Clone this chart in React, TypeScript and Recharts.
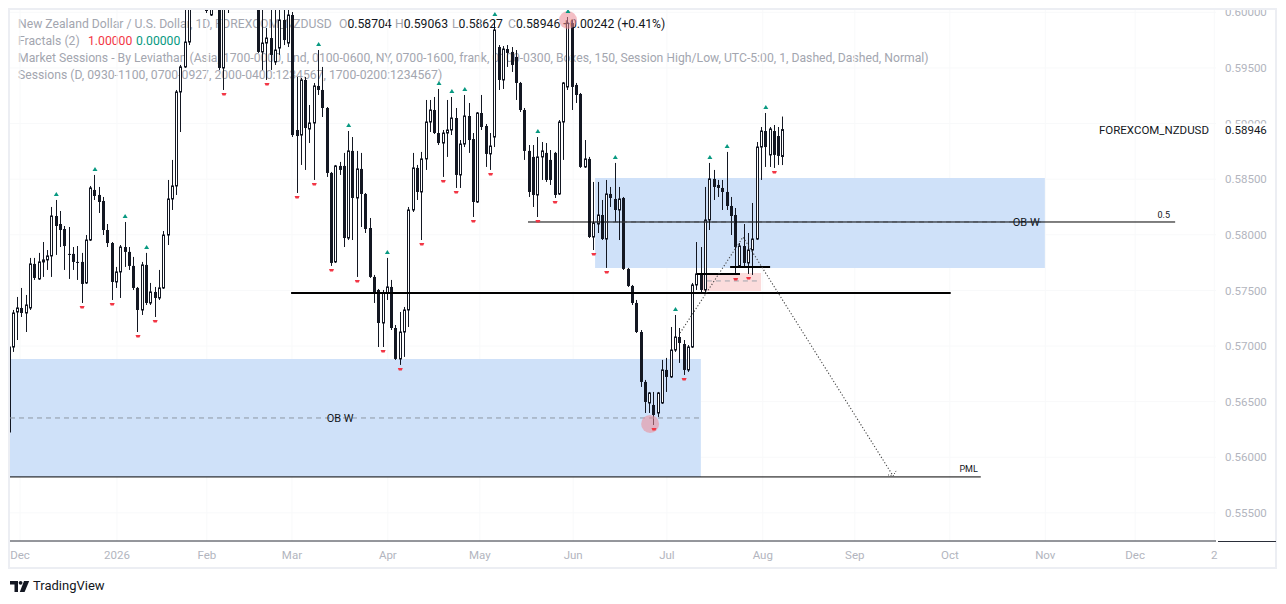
import React from 'react'
import {
  ComposedChart,
  Bar,
  Line,
  Scatter,
  XAxis,
  YAxis,
  CartesianGrid,
  ReferenceArea,
  ReferenceLine,
} from 'recharts'

// NZDUSD daily candles, bar -1 is the half hidden one on the left edge
const FIRST_BAR = -1

const opens = [
  0.56227,
  0.56991, 0.57306, 0.57342, 0.57297, 0.57342, 0.57738, 0.57603, 0.57756, 0.57774, 0.5781,
  0.58169, 0.58097, 0.58052, 0.57828, 0.57828, 0.57756, 0.57756, 0.57567, 0.57953, 0.58403,
  0.58358, 0.58304, 0.58043, 0.57926, 0.57576, 0.57666, 0.5789, 0.57846, 0.5772, 0.57522,
  0.57324, 0.57729, 0.57387, 0.57486, 0.57432, 0.57522, 0.57998, 0.58322, 0.58439, 0.59284,
  0.59509, 0.59733, 0.60183, 0.60381, 0.60516, 0.60291, 0.59976, 0.60201, 0.60336, 0.595,
  0.60129, 0.60246, 0.60471, 0.60561, 0.60426, 0.60291, 0.60156, 0.60336, 0.59644, 0.59724,
  0.59769, 0.59554, 0.59679, 0.59931, 0.59724, 0.59976, 0.58942, 0.58897, 0.59392, 0.58951,
  0.59005, 0.59338, 0.59302, 0.5914, 0.58556, 0.57756, 0.58619, 0.58619, 0.57971, 0.58754,
  0.58331, 0.58592, 0.58367, 0.58061, 0.57621, 0.57504, 0.57207, 0.57477, 0.57531, 0.57162,
  0.56884, 0.57126, 0.57324, 0.58223, 0.58601, 0.58385, 0.58682, 0.59014, 0.59122, 0.58915,
  0.58825, 0.58915, 0.58942, 0.5905, 0.58538, 0.58816, 0.59068, 0.58861, 0.58295, 0.59095,
  0.58978, 0.58727, 0.58879, 0.59688, 0.59392, 0.5967, 0.59644, 0.59599, 0.59365, 0.59122,
  0.58754, 0.587, 0.58358, 0.587, 0.58736, 0.58673, 0.58736, 0.58367, 0.59014, 0.59329,
  0.59904, 0.59347, 0.59266, 0.5861, 0.58682, 0.5798, 0.58097, 0.58178, 0.57962, 0.58367,
  0.58322, 0.58223, 0.58331, 0.57693, 0.5754, 0.57387, 0.57126, 0.56677, 0.56488, 0.5647,
  0.56398, 0.56488, 0.56785, 0.56722, 0.56964, 0.57081, 0.57018, 0.56785, 0.56991, 0.57549,
  0.57648, 0.57504, 0.58133, 0.58502, 0.58448, 0.58421, 0.58385, 0.58259, 0.58178, 0.5772,
  0.57899, 0.57747, 0.57863, 0.57962, 0.58789, 0.58933, 0.58718, 0.58933, 0.58888, 0.58704,
]

const highs = [
  0.57054,
  0.57324, 0.57441, 0.57522, 0.57459, 0.57792, 0.57792, 0.57837, 0.57935, 0.57863, 0.5825,
  0.58313, 0.58214, 0.58079, 0.5807, 0.5789, 0.57899, 0.57837, 0.57998, 0.58439, 0.58538,
  0.5843, 0.5834, 0.58097, 0.57935, 0.57711, 0.57908, 0.58115, 0.5789, 0.57801, 0.57531,
  0.57756, 0.57837, 0.57567, 0.57531, 0.57684, 0.58034, 0.58493, 0.58673, 0.59302, 0.59527,
  0.60039, 0.60291, 0.60471, 0.60606, 0.6065, 0.60381, 0.60246, 0.60426, 0.60471, 0.60156,
  0.60291, 0.60516, 0.6065, 0.60668, 0.60561, 0.60471, 0.60381, 0.60426, 0.60156, 0.59859,
  0.60066, 0.60066, 0.60066, 0.60066, 0.60066, 0.60003, 0.59419, 0.5941, 0.59419, 0.59167,
  0.59365, 0.59661, 0.59509, 0.59149, 0.58565, 0.58628, 0.58655, 0.58736, 0.58933, 0.58879,
  0.58754, 0.58736, 0.58376, 0.58151, 0.57639, 0.57513, 0.57504, 0.57792, 0.57594, 0.57189,
  0.57306, 0.57351, 0.5825, 0.58736, 0.58628, 0.58745, 0.59212, 0.59212, 0.59239, 0.59311,
  0.58942, 0.59212, 0.59239, 0.5914, 0.58852, 0.59257, 0.59185, 0.58915, 0.59104, 0.59257,
  0.58996, 0.58915, 0.59931, 0.59706, 0.59697, 0.59706, 0.59688, 0.59661, 0.59374, 0.5914,
  0.58807, 0.58807, 0.58879, 0.58834, 0.58825, 0.58762, 0.58745, 0.59032, 0.59374, 0.59958,
  0.59931, 0.59365, 0.59275, 0.58852, 0.587, 0.58475, 0.58475, 0.58313, 0.58493, 0.5843,
  0.58646, 0.5843, 0.5834, 0.57702, 0.57549, 0.57414, 0.57144, 0.56695, 0.56587, 0.56587,
  0.56587, 0.56875, 0.56893, 0.57171, 0.57279, 0.57162, 0.57054, 0.57009, 0.57567, 0.57935,
  0.5789, 0.5843, 0.58646, 0.58583, 0.58493, 0.58493, 0.58745, 0.5834, 0.58241, 0.57926,
  0.58097, 0.58016, 0.58286, 0.58834, 0.58969, 0.59095, 0.58969, 0.58987, 0.58969, 0.59063,
]

const lows = [
  0.562,
  0.56947, 0.57054, 0.57261, 0.57126, 0.57324, 0.57594, 0.57594, 0.57621, 0.57684, 0.57621,
  0.57819, 0.5789, 0.57684, 0.57603, 0.57684, 0.57594, 0.57387, 0.57558, 0.57944, 0.58313,
  0.58196, 0.57998, 0.5789, 0.57414, 0.57522, 0.57432, 0.57711, 0.57684, 0.57504, 0.57126,
  0.57279, 0.57369, 0.57369, 0.57261, 0.57414, 0.57513, 0.57908, 0.58223, 0.58358, 0.58924,
  0.595, 0.59706, 0.60219, 0.60291, 0.60246, 0.59994, 0.59967, 0.60156, 0.59482, 0.59302,
  0.59994, 0.60183, 0.60381, 0.60363, 0.60201, 0.60111, 0.60066, 0.59635, 0.59482, 0.59392,
  0.59482, 0.59527, 0.59617, 0.59706, 0.59688, 0.58879, 0.58376, 0.58628, 0.58583, 0.58825,
  0.58493, 0.59257, 0.59059, 0.5852, 0.5772, 0.57747, 0.58538, 0.5789, 0.57953, 0.57953,
  0.57621, 0.5807, 0.58016, 0.57612, 0.57387, 0.56991, 0.56991, 0.57414, 0.57144, 0.56875,
  0.5683, 0.56902, 0.57171, 0.58205, 0.58313, 0.57953, 0.58583, 0.58924, 0.58906, 0.58807,
  0.5852, 0.587, 0.58897, 0.58421, 0.58421, 0.58789, 0.58736, 0.5816, 0.58286, 0.58942,
  0.5861, 0.58583, 0.58789, 0.59302, 0.59311, 0.59509, 0.59464, 0.59212, 0.59104, 0.58673,
  0.5834, 0.5825, 0.5816, 0.58493, 0.58475, 0.58448, 0.58331, 0.58358, 0.58673, 0.59302,
  0.59122, 0.59185, 0.58601, 0.58601, 0.57971, 0.57863, 0.58016, 0.57953, 0.57702, 0.5825,
  0.58115, 0.57953, 0.57684, 0.57531, 0.57369, 0.57117, 0.56632, 0.56398, 0.56398, 0.5629,
  0.56362, 0.56479, 0.56587, 0.56713, 0.56947, 0.56848, 0.5674, 0.56767, 0.56982, 0.57504,
  0.57477, 0.57477, 0.58043, 0.58313, 0.5834, 0.58223, 0.58223, 0.57998, 0.57639, 0.57711,
  0.57711, 0.57648, 0.57639, 0.57953, 0.58493, 0.5861, 0.5861, 0.58601, 0.58628, 0.58627,
]

const closes = [
  0.56991,
  0.57297, 0.57342, 0.57297, 0.57369, 0.57738, 0.57612, 0.57756, 0.57774, 0.5781, 0.58169,
  0.58079, 0.58043, 0.57899, 0.57819, 0.57756, 0.57747, 0.57558, 0.57953, 0.58421, 0.58349,
  0.58295, 0.58043, 0.57926, 0.57576, 0.57666, 0.5789, 0.57846, 0.5772, 0.57522, 0.57324,
  0.57729, 0.57387, 0.57486, 0.57432, 0.57522, 0.57998, 0.58322, 0.58439, 0.59284, 0.59509,
  0.59733, 0.60183, 0.60381, 0.60516, 0.60291, 0.60012, 0.60201, 0.60336, 0.595, 0.60129,
  0.60246, 0.60471, 0.60561, 0.60426, 0.60291, 0.60156, 0.60336, 0.59644, 0.59724, 0.59769,
  0.59617, 0.59661, 0.59931, 0.59751, 0.59976, 0.58897, 0.58888, 0.59392, 0.5896, 0.59005,
  0.59338, 0.59302, 0.5914, 0.58556, 0.57747, 0.58619, 0.58583, 0.57971, 0.58754, 0.58331,
  0.58592, 0.58367, 0.58052, 0.57621, 0.57477, 0.57207, 0.57477, 0.57531, 0.57162, 0.56884,
  0.57126, 0.57324, 0.58223, 0.58601, 0.58385, 0.58682, 0.59014, 0.59122, 0.58915, 0.58825,
  0.58915, 0.58942, 0.5905, 0.58538, 0.58816, 0.59068, 0.58852, 0.58295, 0.59095, 0.58969,
  0.58727, 0.58798, 0.59841, 0.59392, 0.5967, 0.59635, 0.59527, 0.59365, 0.59122, 0.58754,
  0.58385, 0.58358, 0.587, 0.58754, 0.58493, 0.58493, 0.58358, 0.59014, 0.59365, 0.59904,
  0.59329, 0.59257, 0.5861, 0.58682, 0.5798, 0.58106, 0.58178, 0.57962, 0.58367, 0.58331,
  0.58223, 0.58322, 0.57693, 0.5754, 0.57387, 0.57126, 0.56677, 0.56497, 0.56578, 0.5638,
  0.56578, 0.56785, 0.56722, 0.56964, 0.57081, 0.57027, 0.56785, 0.56991, 0.57549, 0.57648,
  0.57504, 0.58133, 0.58502, 0.5843, 0.58421, 0.58385, 0.58259, 0.58169, 0.5789, 0.57899,
  0.57747, 0.57863, 0.57962, 0.58789, 0.58933, 0.58789, 0.58951, 0.58718, 0.58709, 0.58946,
]

// bars where the Fractals (2) script printed a mark
const fractalUpBars = [10, 19, 26, 31, 71, 78, 87, 99, 102, 105, 112, 122, 129, 140, 154, 162, 166, 175]
const fractalDownBars = [
  16, 23, 29, 33, 49, 59, 66, 70, 74, 80, 86, 90, 95, 100, 103, 107, 111, 122, 126, 135, 138, 149,
  156, 168, 171, 177,
]

// month labels sit on the first trading day of each month (bar index)
const monthTicks = [1.56, 24.1, 45, 64.8, 87.1, 108.5, 130.2, 152, 174.3, 195.7, 217.8, 240, 260.9, 279.3]
const monthLabels = ['Dec', '2026', 'Feb', 'Mar', 'Apr', 'May', 'Jun', 'Jul', 'Aug', 'Sep', 'Oct', 'Nov', 'Dec', '2']

const priceTicks = [0.555, 0.56, 0.565, 0.57, 0.575, 0.58, 0.585, 0.59, 0.595, 0.6]
const LAST_PRICE = 0.58946

// drawings
const obUpperBars = [135.3, 239.9]
const obUpperPrices = [0.57702, 0.58511, 0.58115]
const obLowerBars = [-0.77, 159.9]
const obLowerPrices = [0.55823, 0.56884, 0.56353]
const halfLineBars = [119.7, 270.2]
const keyLevelBars = [64.6, 218]
const KEY_LEVEL = 0.57477
const pmlBars = [-0.77, 225]
const PML = 0.55823
const pinkBars = [160.4, 173.9]
const pinkPrices = [0.57495, 0.57657, 0.57585]
const shortLevelBars = [159, 169]
const SHORT_LEVEL = 0.57648
const boxLevelBars = [166.7, 176]
const BOX_LEVEL = 0.57711
const pathBars = [155.05, 169.7, 204.6]
const pathPrices = [0.57117, 0.5798, 0.55832]
const circleBars = [148.1, 129]
const circlePrices = [0.56299, 0.59931]

const X_DOMAIN = [-0.77, 279.7]
const Y_DOMAIN = [0.55247, 0.60021]

const candles = opens.map((o, k) => ({
  bar: k + FIRST_BAR,
  open: o,
  high: highs[k],
  low: lows[k],
  close: closes[k],
  range: [lows[k], highs[k]],
}))

const upMarks = fractalUpBars.map((b) => ({ bar: b, v: highs[b - FIRST_BAR] }))
const downMarks = fractalDownBars.map((b) => ({ bar: b, v: lows[b - FIRST_BAR] }))
const pathData = pathBars.map((b, i) => ({ bar: b, v: pathPrices[i] }))
const circleData = circleBars.map((b, i) => ({ bar: b, v: circlePrices[i] }))
const labelData = [
  { bar: obUpperBars[1] - 1.2, v: obUpperPrices[2], text: 'OB W', anchor: 'end', size: 11, dy: 4 },
  { bar: 76, v: obLowerPrices[2], text: 'OB W', anchor: 'middle', size: 11, dy: 4 },
  { bar: halfLineBars[1] - 1.2, v: obUpperPrices[2], text: '0.5', anchor: 'end', size: 9, dy: -4 },
  { bar: pmlBars[1] - 0.7, v: PML, text: 'PML', anchor: 'end', size: 9, dy: -5 },
]

const INK = '#131722'
const AXIS_GREY = '#b2b5be'
const LEGEND_GREY = '#a3a6af'

function Candle(props: any) {
  const { x, y, width, height, payload } = props
  if (x == null || y == null) return null
  const top = Math.min(y, y + height)
  const h = Math.abs(height)
  const { open, close, high, low } = payload
  const ppu = h / (high - low)
  const yOf = (v: number) => top + (high - v) * ppu
  const cx = Math.floor(x + width / 2) + 0.5
  const up = close >= open
  const bTop = yOf(Math.max(open, close))
  const bBot = yOf(Math.min(open, close))
  const bh = Math.max(bBot - bTop, 1)
  return (
    <g>
      <line x1={cx} x2={cx} y1={top} y2={top + h} stroke={INK} strokeWidth={1} />
      {up ? (
        <rect x={cx - 1} y={bTop} width={2} height={bh} fill="#fff" stroke={INK} strokeWidth={1} />
      ) : (
        <rect x={cx - 1.5} y={bTop} width={3} height={bh} fill={INK} />
      )}
    </g>
  )
}

function UpMark(props: any) {
  const { cx, cy } = props
  const t = cy - 4
  return <path d={`M${cx - 2.5} ${t} L${cx + 2.5} ${t} L${cx} ${t - 4} Z`} fill="#089981" />
}

function DownMark(props: any) {
  const { cx, cy } = props
  const t = cy + 3
  return <path d={`M${cx - 2.5} ${t} L${cx + 2.5} ${t} L${cx + 1.5} ${t + 2.5} L${cx - 1.5} ${t + 2.5} Z`} fill="#f23645" />
}

function HighlightCircle(props: any) {
  const { cx, cy } = props
  return <circle cx={cx} cy={cy} r={9} fill="#eb8a96" fillOpacity={0.55} />
}

function TextMark(props: any) {
  const { cx, cy, payload } = props
  return (
    <text x={cx} y={cy} dy={payload.dy} textAnchor={payload.anchor} fontSize={payload.size} fill={INK}>
      {payload.text}
    </text>
  )
}

function PathArrow(props: any) {
  const { cx, cy, index } = props
  if (index !== pathBars.length - 1) return <g key={index} />
  return (
    <path
      key={index}
      d={`M${cx - 5} ${cy - 1} L${cx} ${cy} L${cx + 3} ${cy - 5}`}
      fill="none"
      stroke="#444"
      strokeWidth={1}
      strokeDasharray="1 1.5"
    />
  )
}

function MonthTick(props: any) {
  const { x, y, payload } = props
  const idx = monthTicks.indexOf(payload.value)
  return (
    <text x={x} y={y + 18} textAnchor="middle" fill={AXIS_GREY} fontSize={11.5}>
      {monthLabels[idx]}
    </text>
  )
}

function PriceTick(props: any) {
  const { x, y, payload } = props
  const v = payload.value as number
  if (Math.abs(v - LAST_PRICE) < 1e-9) {
    return (
      <g>
        <rect x={x + 2} y={y - 6} width={56} height={14} fill="#fff" />
        <text x={x + 9} y={y} dy="0.36em" fill={INK} fontSize={11.5}>
          {v.toFixed(5)}
        </text>
        <text x={x - 7} y={y} dy="0.36em" textAnchor="end" fill={INK} fontSize={11.5}>
          FOREXCOM_NZDUSD
        </text>
      </g>
    )
  }
  return (
    <text x={x + 9} y={y} dy="0.36em" fill={AXIS_GREY} fontSize={11.5}>
      {v.toFixed(5)}
    </text>
  )
}

function Legend() {
  const line = (top: number): React.CSSProperties => ({
    position: 'absolute',
    top: top - 8.5,
    height: 17,
    lineHeight: '17px',
    whiteSpace: 'nowrap',
    fontSize: 12.2,
  })
  const ohlc = [
    ['O', '0.58704', 339],
    ['H', '0.59063', 395],
    ['L', '0.58627', 452],
    ['C', '0.58946', 508],
  ] as const
  return (
    <>
      <div style={{ ...line(24), left: 18, color: LEGEND_GREY }}>
        New Zealand Dollar / U.S. Dollar, 1D, FOREXCOM_NZDUSD
      </div>
      {ohlc.map(([k, v, left]) => (
        <div key={k} style={{ ...line(24), left }}>
          <span style={{ color: LEGEND_GREY }}>{k}</span>
          <span style={{ color: INK }}>{v}</span>
        </div>
      ))}
      <div style={{ ...line(24), left: 563, color: INK }}>+0.00242 (+0.41%)</div>
      <div style={{ ...line(41.5), left: 18, color: LEGEND_GREY }}>Fractals (2)</div>
      <div style={{ ...line(41.5), left: 88, color: '#f23645' }}>1.00000</div>
      <div style={{ ...line(41.5), left: 136, color: '#089981' }}>0.00000</div>
      <div style={{ ...line(58.5), left: 18, color: LEGEND_GREY }}>
        Market Sessions - By Leviathan (Asia, 1700-0000, Lnd, 0100-0600, NY, 0700-1600, frank, 0100-0300, Boxes, 150,
        Session High/Low, UTC-5:00, 1, Dashed, Dashed, Normal)
      </div>
      <div style={{ ...line(75.5), left: 18, color: LEGEND_GREY }}>
        Sessions (D, 0930-1100, 0700-0927, 2000-0400:1234567, 1700-0200:1234567)
      </div>
    </>
  )
}

export default function App() {
  return (
    <div
      style={{
        position: 'fixed',
        left: 0,
        top: 0,
        width: 1286,
        height: 604,
        background: '#fff',
        overflow: 'hidden',
        fontFamily: 'Roboto, "Noto Sans", sans-serif',
      }}
    >
      <div style={{ position: 'absolute', inset: 0, zIndex: 0 }}>
        <Legend />
      </div>

      <div style={{ position: 'absolute', left: 0, top: 0, zIndex: 1 }}>
        <ComposedChart width={1286} height={604} data={candles} margin={{ top: 10, right: 10, bottom: 0, left: 10 }}>
          <CartesianGrid stroke="#f8f9fa" horizontalValues={priceTicks} verticalValues={monthTicks} />
          <XAxis
            dataKey="bar"
            type="number"
            domain={X_DOMAIN}
            allowDataOverflow
            ticks={monthTicks}
            interval={0}
            height={63}
            tickLine={false}
            tickSize={0}
            tickMargin={0}
            axisLine={{ stroke: '#2a2e39' }}
            tick={<MonthTick />}
          />
          <YAxis
            type="number"
            orientation="right"
            domain={Y_DOMAIN}
            allowDataOverflow
            width={60}
            ticks={[...priceTicks, LAST_PRICE]}
            interval={0}
            tickLine={false}
            tickSize={0}
            tickMargin={0}
            axisLine={false}
            tick={<PriceTick />}
          />

          <ReferenceArea
            x1={obUpperBars[0]}
            x2={obUpperBars[1]}
            y1={obUpperPrices[0]}
            y2={obUpperPrices[1]}
            fill="#cfe1f9"
            fillOpacity={1}
            stroke="none"
          />
          <ReferenceArea
            x1={obLowerBars[0]}
            x2={obLowerBars[1]}
            y1={obLowerPrices[0]}
            y2={obLowerPrices[1]}
            fill="#cfe1f9"
            fillOpacity={1}
            stroke="none"
          />
          <ReferenceArea
            x1={pinkBars[0]}
            x2={pinkBars[1]}
            y1={pinkPrices[0]}
            y2={pinkPrices[1]}
            fill="#fbdcdc"
            fillOpacity={1}
            stroke="none"
          />
          <ReferenceLine
            segment={[
              { x: obUpperBars[0], y: obUpperPrices[2] },
              { x: obUpperBars[1], y: obUpperPrices[2] },
            ]}
            stroke="#8f97a3"
            strokeDasharray="5 4"
          />
          <ReferenceLine
            segment={[
              { x: obLowerBars[0], y: obLowerPrices[2] },
              { x: obLowerBars[1], y: obLowerPrices[2] },
            ]}
            stroke="#8f97a3"
            strokeDasharray="5 4"
          />
          <ReferenceLine
            segment={[
              { x: pinkBars[0] + 0.9, y: pinkPrices[2] },
              { x: pinkBars[1] - 0.9, y: pinkPrices[2] },
            ]}
            stroke="#a0a4ad"
            strokeDasharray="5 4"
          />

          <Bar dataKey="range" barSize={3} shape={<Candle />} isAnimationActive={false} />

          <ReferenceLine
            segment={[
              { x: halfLineBars[0], y: obUpperPrices[2] },
              { x: halfLineBars[1], y: obUpperPrices[2] },
            ]}
            stroke="#000"
            strokeWidth={1}
          />
          <ReferenceLine
            segment={[
              { x: keyLevelBars[0], y: KEY_LEVEL },
              { x: keyLevelBars[1], y: KEY_LEVEL },
            ]}
            stroke="#000"
            strokeWidth={2}
          />
          <ReferenceLine
            segment={[
              { x: pmlBars[0], y: PML },
              { x: pmlBars[1], y: PML },
            ]}
            stroke="#000"
            strokeWidth={1}
          />
          <ReferenceLine
            segment={[
              { x: shortLevelBars[0], y: SHORT_LEVEL },
              { x: shortLevelBars[1], y: SHORT_LEVEL },
            ]}
            stroke="#000"
            strokeWidth={2}
          />
          <ReferenceLine
            segment={[
              { x: boxLevelBars[0], y: BOX_LEVEL },
              { x: boxLevelBars[1], y: BOX_LEVEL },
            ]}
            stroke="#000"
            strokeWidth={2}
          />

          <Line
            data={pathData}
            dataKey="v"
            stroke="#444"
            strokeWidth={1.1}
            strokeDasharray="1.2 2"
            dot={<PathArrow />}
            activeDot={false}
            isAnimationActive={false}
          />
          <Scatter data={circleData} dataKey="v" shape={<HighlightCircle />} isAnimationActive={false} />
          <Scatter data={upMarks} dataKey="v" shape={<UpMark />} isAnimationActive={false} />
          <Scatter data={downMarks} dataKey="v" shape={<DownMark />} isAnimationActive={false} />
          <Scatter data={labelData} dataKey="v" shape={<TextMark />} isAnimationActive={false} />
        </ComposedChart>
      </div>

      {/* frame and the axis rule under the price scale */}
      <div
        style={{
          position: 'absolute',
          left: 0,
          top: 0,
          width: 1286,
          height: 9,
          background: '#fff',
          zIndex: 2,
        }}
      />
      <div
        style={{
          position: 'absolute',
          left: 8,
          top: 8,
          width: 1269,
          height: 561,
          border: '2px solid #eceef3',
          boxSizing: 'border-box',
          zIndex: 3,
          pointerEvents: 'none',
        }}
      />
      <div style={{ position: 'absolute', left: 1218, top: 540.5, width: 58, height: 1, background: '#2a2e39', zIndex: 3 }} />

      <div style={{ position: 'absolute', left: 10, top: 579, display: 'flex', alignItems: 'center', zIndex: 3 }}>
        <svg width={20} height={13} viewBox="0 0 20 13">
          <path d="M0 1h8v11H4.5V4.5H0z" fill={INK} />
          <circle cx={10.6} cy={2.8} r={1.9} fill={INK} />
          <path d="M14 1h5.2l-4.6 11H9.8z" fill={INK} />
        </svg>
        <span style={{ marginLeft: 3, fontSize: 13, color: INK, lineHeight: '14px' }}>TradingView</span>
      </div>
    </div>
  )
}
